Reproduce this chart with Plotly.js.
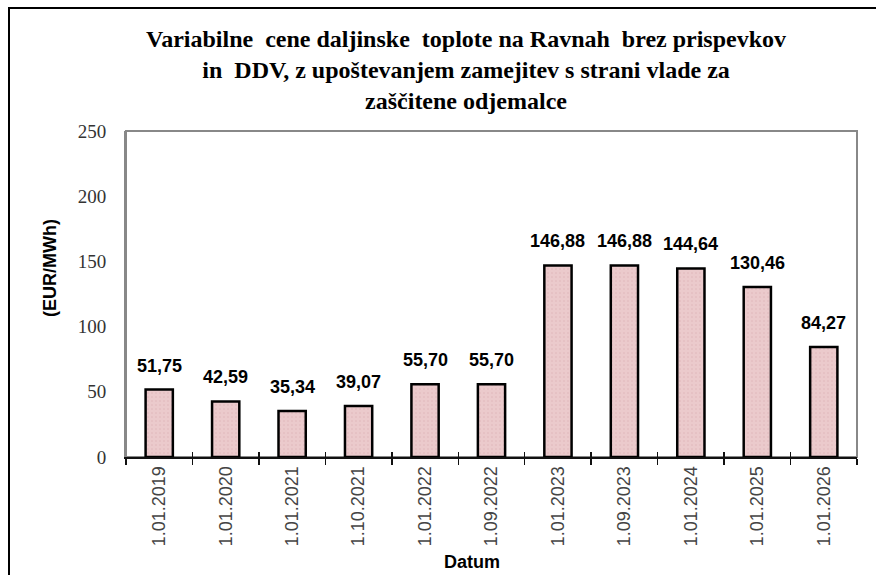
<!DOCTYPE html>
<html>
<head>
<meta charset="utf-8">
<script src="https://cdn.plot.ly/plotly-3.0.1.min.js"></script>
<style>
html,body{margin:0;padding:0;background:#fff;overflow:hidden;}
#chart{width:876px;height:575px;position:absolute;left:0;top:0;}
#frame{position:absolute;left:8px;top:7px;width:900px;height:600px;border-left:2px solid #000;border-top:2px solid #000;pointer-events:none;}
</style>
</head>
<body>
<div id="chart"></div>
<div id="frame"></div>
<script>
const categories = ['1.01.2019','1.01.2020','1.01.2021','1.10.2021','1.01.2022','1.09.2022','1.01.2023','1.09.2023','1.01.2024','1.01.2025','1.01.2026'];
const values = [51.75, 42.59, 35.34, 39.07, 55.70, 55.70, 146.88, 146.88, 144.64, 130.46, 84.27];
const yTicks = [0, 50, 100, 150, 200, 250];

const labels = values.map(v => v.toFixed(2).replace('.', ','));

const trace = {
  type: 'bar',
  x: categories,
  y: values,
  marker: {
    color: '#e9c5c6',
    line: {color: '#000', width: 2.5},
    pattern: {shape: '.', fgcolor: '#dfb6b9', bgcolor: '#ebcacc', size: 4, solidity: 0.12}
  },
  hoverinfo: 'none'
};

const ML = 126, MR = 19, MT = 131, MB = 118, W = 876, H = 575;
const plotW = W - ML - MR, plotH = H - MT - MB;
const px = x => (x - ML) / plotW;
const py = y => (H - MB - y) / plotH;

const SERIF = 'Times New Roman';
const SANS = 'Arial';

const annotations = categories.map((c, i) => ({
  x: c, y: values[i], xref: 'x', yref: 'y',
  text: '<b>' + labels[i] + '</b>', showarrow: false, xanchor: 'center', yanchor: 'bottom', yshift: 12,
  font: {family: SANS, size: 18, color: '#000'}
}));
annotations.push({
  x: px(50), y: py(268), xref: 'paper', yref: 'paper', text: '<b>(EUR/MWh)</b>', showarrow: false,
  xanchor: 'center', yanchor: 'middle',
  textangle: -90, font: {family: SANS, size: 18, color: '#000'}
});
annotations.push({
  x: px(472), y: py(562), xref: 'paper', yref: 'paper', text: '<b>Datum</b>', showarrow: false,
  xanchor: 'center', yanchor: 'middle',
  font: {family: SANS, size: 18, color: '#000'}
});
annotations.push({
  x: px(466), y: py(24), xref: 'paper', yref: 'paper', showarrow: false,
  xanchor: 'center', yanchor: 'top', align: 'center',
  text: '<b>Variabilne  cene daljinske  toplote na Ravnah  brez prispevkov</b><br><b>in  DDV, z upoštevanjem zamejitev s strani vlade za</b><br><b>zaščitene odjemalce</b>',
  font: {family: SERIF, size: 24, color: '#000'}
});

const layout = {
  width: W, height: H,
  margin: {l: ML, r: MR, t: MT, b: MB},
  paper_bgcolor: '#fff', plot_bgcolor: '#fff',
  showlegend: false,
  bargap: 0.59,
  xaxis: {
    type: 'category',
    tickangle: -90,
    tickfont: {family: SANS, size: 18, color: '#444'},
    showline: true, linecolor: '#111', linewidth: 2,
    ticks: 'outside', ticklen: 6, tickwidth: 1.5, tickcolor: '#111',
    tickson: 'boundaries',
    showgrid: false, zeroline: false, fixedrange: true
  },
  xaxis2: {
    type: 'category', overlaying: 'x', matches: 'x', anchor: 'y',
    ticks: 'inside', ticklen: 5, tickwidth: 1.5, tickcolor: '#111',
    tickson: 'boundaries', showticklabels: false, showline: false, showgrid: false, zeroline: false
  },
  yaxis: {
    range: [0, 250], tickvals: yTicks, ticktext: yTicks.map(String),
    tickfont: {family: SERIF, size: 19, color: '#333'},
    showline: true, linecolor: '#888', linewidth: 2,
    ticks: '', ticklabelstandoff: 14,
    showgrid: false, zeroline: false, fixedrange: true
  },
  shapes: [{
    type: 'rect', xref: 'paper', yref: 'paper', x0: 0, x1: 1, y0: 0, y1: 1,
    line: {color: '#888', width: 2}, layer: 'below'
  }],
  annotations: annotations
};

const dummy = {type: 'bar', x: categories, y: categories.map(() => null), xaxis: 'x2', yaxis: 'y', hoverinfo: 'none', showlegend: false};

Plotly.newPlot('chart', [trace, dummy], layout, {displayModeBar: false, staticPlot: true});
</script>
</body>
</html>
